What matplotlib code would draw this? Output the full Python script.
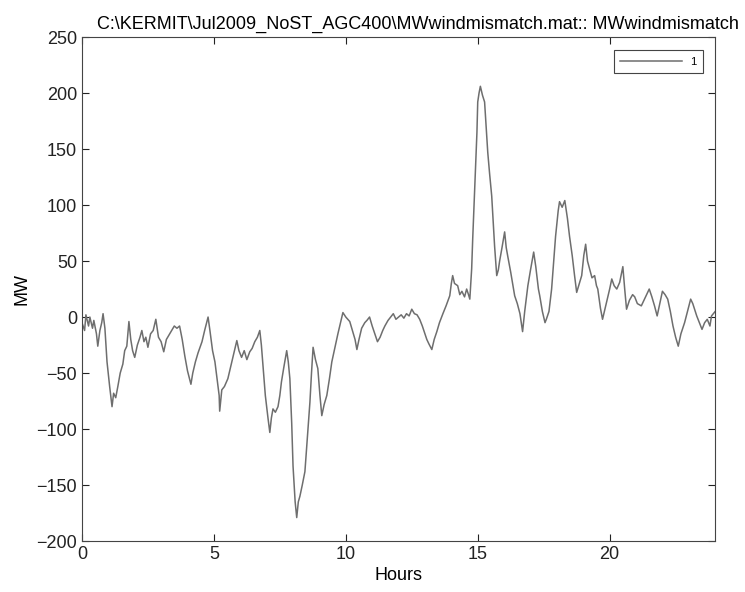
import matplotlib.pyplot as plt

# MW wind mismatch over one day
hours = [0.0, 0.1, 0.15, 0.25, 0.3, 0.4, 0.45, 0.55, 0.6, 0.68, 0.75, 0.8, 0.87, 0.95,
         1.05, 1.14, 1.2, 1.28, 1.36, 1.45, 1.55, 1.62, 1.7, 1.78, 1.85, 1.92, 2.0,
         2.1, 2.2, 2.27, 2.35, 2.42, 2.5, 2.6, 2.7, 2.8, 2.9, 3.0, 3.1, 3.2, 3.3,
         3.4, 3.5, 3.6, 3.7, 3.8, 3.9, 4.0, 4.13, 4.2, 4.3, 4.4, 4.55, 4.65, 4.78,
         4.85, 4.95, 5.04, 5.12, 5.2, 5.22, 5.3, 5.4, 5.53, 5.6, 5.7, 5.8, 5.87,
         5.95, 6.05, 6.15, 6.25, 6.36, 6.45, 6.55, 6.65, 6.74, 6.8, 6.87, 6.95,
         7.05, 7.12, 7.18, 7.24, 7.33, 7.43, 7.5, 7.56, 7.65, 7.76, 7.82, 7.88,
         7.95, 8.0, 8.08, 8.14, 8.2, 8.26, 8.35, 8.45, 8.55, 8.64, 8.7, 8.76,
         8.85, 8.94, 9.02, 9.09, 9.18, 9.28, 9.38, 9.47, 9.58, 9.7, 9.8, 9.89,
         10.0, 10.15, 10.25, 10.35, 10.42, 10.5, 10.6, 10.72, 10.8, 10.9, 11.0,
         11.1, 11.2, 11.3, 11.4, 11.48, 11.6, 11.7, 11.8, 11.9, 12.0, 12.1, 12.2,
         12.3, 12.4, 12.5, 12.6, 12.7, 12.8, 12.9, 13.0, 13.07, 13.15, 13.26,
         13.35, 13.45, 13.55, 13.68, 13.8, 13.94, 14.0, 14.05, 14.12, 14.24,
         14.32, 14.4, 14.5, 14.58, 14.65, 14.7, 14.77, 14.81, 14.87, 14.92,
         14.97, 15.0, 15.05, 15.1, 15.18, 15.26, 15.32, 15.38, 15.45, 15.53,
         15.6, 15.64, 15.72, 15.78, 15.83, 15.92, 16.02, 16.08, 16.14, 16.25,
         16.4, 16.5, 16.6, 16.7, 16.78, 16.9, 17.0, 17.12, 17.2, 17.3, 17.35,
         17.45, 17.55, 17.6, 17.7, 17.8, 17.88, 17.95, 18.05, 18.1, 18.2, 18.3,
         18.4, 18.48, 18.58, 18.67, 18.75, 18.85, 18.94, 19.02, 19.09, 19.16,
         19.24, 19.33, 19.43, 19.5, 19.55, 19.65, 19.73, 19.8, 19.9, 20.0,
         20.08, 20.17, 20.27, 20.38, 20.5, 20.57, 20.64, 20.75, 20.87, 20.95,
         21.05, 21.2, 21.3, 21.4, 21.5, 21.6, 21.7, 21.8, 21.9, 22.0, 22.1,
         22.2, 22.3, 22.4, 22.5, 22.6, 22.7, 22.84, 22.95, 23.07, 23.15, 23.3,
         23.4, 23.5, 23.6, 23.7, 23.8, 23.86, 24.0]
mw = [-5, -12, 2, -8, 0, -10, -3, -15, -26, -12, -5, 3, -10, -40,
      -62, -80, -68, -72, -62, -50, -42, -30, -26, -4, -20, -30, -36,
      -25, -18, -12, -22, -18, -27, -15, -12, -2, -18, -22, -31, -20, -16,
      -12, -8, -10, -8, -20, -35, -48, -60, -50, -40, -32, -22, -12, 0,
      -12, -30, -40, -55, -70, -84, -65, -62, -55, -48, -38, -28, -21,
      -30, -36, -30, -38, -31, -28, -22, -18, -12, -25, -46, -70,
      -90, -103, -90, -82, -85, -80, -70, -58, -45, -30, -40, -55,
      -95, -133, -165, -179, -165, -160, -150, -138, -105, -76, -50, -27,
      -38, -46, -70, -88, -78, -70, -55, -40, -28, -15, -5, 4,
      0, -4, -12, -20, -29, -20, -10, -5, -3, 0, -8,
      -15, -22, -18, -12, -8, -3, 0, 3, -2, 0, 2, -1,
      3, 1, 7, 3, 2, -2, -8, -15, -20, -24, -29,
      -20, -13, -5, 3, 10, 19, 30, 37, 30, 28,
      20, 23, 18, 25, 20, 16, 43, 70, 105, 132,
      165, 192, 200, 206, 198, 192, 170, 147, 128, 108,
      80, 63, 37, 42, 50, 62, 76, 62, 54, 40,
      19, 12, 3, -13, 5, 28, 42, 58, 45, 25, 19,
      5, -5, -2, 5, 25, 50, 72, 95, 103, 98, 104,
      88, 72, 55, 37, 22, 30, 37, 55, 65, 50,
      43, 35, 37, 28, 25, 8, -2, 5, 15, 25,
      34, 28, 25, 31, 45, 25, 7, 15, 20, 18,
      12, 10, 15, 20, 25, 18, 10, 1, 12, 23, 20,
      16, 5, -8, -18, -26, -15, -5, 5, 16, 12, 1,
      -5, -11, -5, -2, -8, 1, 5]

xticks = [0, 5, 10, 15, 20]
yticks = [-200, -150, -100, -50, 0, 50, 100, 150, 200, 250]

plt.rcParams['font.family'] = ['Liberation Sans', 'DejaVu Sans']

fig = plt.figure(figsize=(7.45, 5.92), dpi=100)
ax = fig.add_axes([0.110, 0.086, 0.850, 0.8515])

ax.plot(hours, mw, color='#6e6e6e', linewidth=1.1, label='1')

ax.set_xlim(0, 24)
ax.set_ylim(-200, 250)
ax.set_xticks(xticks)
ax.set_yticks(yticks)
ax.tick_params(direction='in', top=True, right=True, length=5, width=0.8,
               labelsize=13, colors='#222222')
for s in ax.spines.values():
    s.set_color('#444444')
    s.set_linewidth(0.8)

ax.set_xlabel('Hours', fontsize=13, labelpad=3)
ax.set_ylabel('MW', fontsize=13, labelpad=4)
ax.set_title(r'C:\KERMIT\Jul2009_NoST_AGC400\MWwindmismatch.mat:: MWwindmismatch',
             fontsize=13, pad=6, x=0.53)

leg = ax.legend(loc='upper right', fontsize=8, fancybox=False, framealpha=1,
                edgecolor='#444444', handlelength=5.5, borderpad=0.6,
                bbox_to_anchor=(0.99, 0.985))
leg.get_frame().set_linewidth(0.8)

plt.savefig('out.png', dpi=100)
